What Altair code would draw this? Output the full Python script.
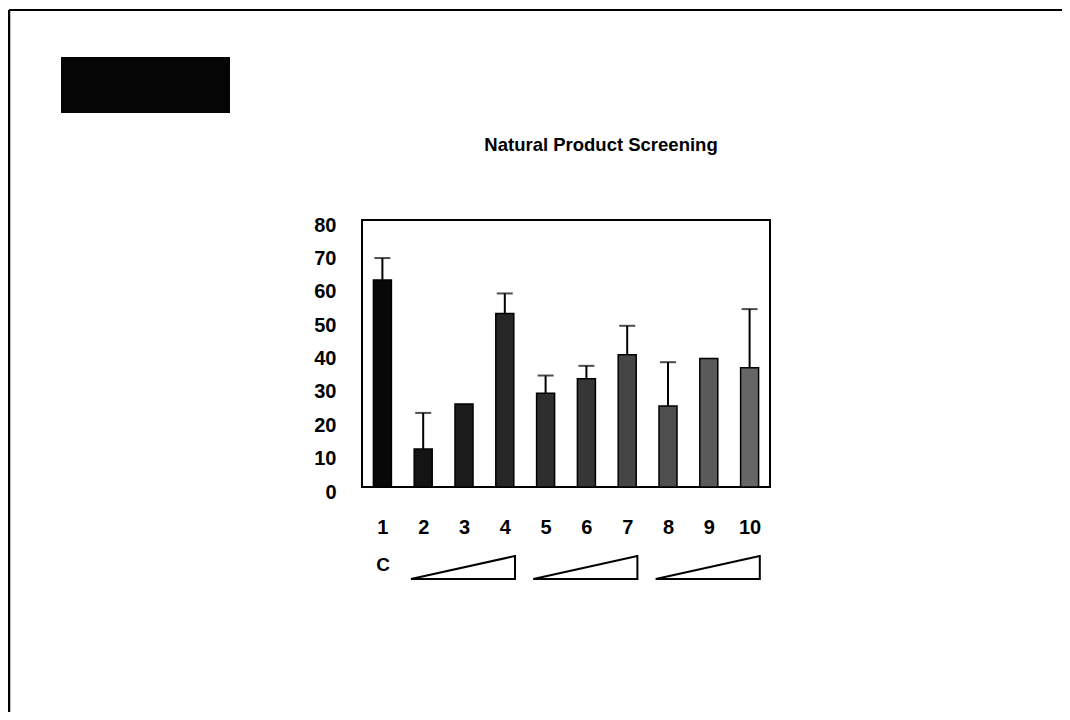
import altair as alt
import pandas as pd

# ---- data ----
lanes = [1, 2, 3, 4, 5, 6, 7, 8, 9, 10]
means = [62.0, 11.4, 24.9, 52.0, 28.1, 32.4, 39.6, 24.3, 38.5, 35.7]
upper = [68.6, 22.2, None, 58.0, 33.4, 36.3, 48.3, 37.4, None, 53.3]
y_ticks = [0, 10, 20, 30, 40, 50, 60, 70, 80]
wedge_first = [2, 5, 8]
wedge_last = [4, 7, 10]
title_text = "Natural Product Screening"
conc_label = "C"

# ---- styles ----
bar_greys = ["#080808", "#141414", "#1c1c1c", "#262626", "#2e2e2e",
             "#363636", "#454545", "#4f4f4f", "#5a5a5a", "#666666"]
FONT = "Liberation Sans"
W, H = 408, 267
PAD = {"left": 354, "top": 212, "right": 292, "bottom": 225}

df = pd.DataFrame({"lane": lanes, "mean": means, "upper": upper})
err_df = df.dropna().reset_index(drop=True)
wedge_df = pd.DataFrame({"first": wedge_first, "last": wedge_last})
one = pd.DataFrame({"k": [0]})

xscale = alt.Scale(domain=[0.5, 10.5], nice=False, zero=False, padding=0)
yscale = alt.Scale(domain=[0, 80], nice=False, padding=0)

x_axis = alt.Axis(values=lanes, format="d", title=None, labelFont=FONT,
                  labelFontSize=20, labelFontWeight="bold", labelColor="black",
                  labelPadding=30, ticks=False, domain=False, grid=False)
y_axis = alt.Axis(values=y_ticks, title=None, labelFont=FONT, labelFontSize=20,
                  labelFontWeight="bold", labelColor="black", labelPadding=26,
                  labelOffset=5, ticks=False, domain=False, grid=False)


def X(field):
    return alt.X(field, scale=xscale, axis=x_axis)


def Y(field):
    return alt.Y(field, scale=yscale, axis=y_axis)


bars = alt.Chart(df).mark_bar(size=18, stroke="black", strokeWidth=1.5).encode(
    x=X("lane:Q"),
    y=Y("mean:Q"),
    color=alt.Color("lane:O", scale=alt.Scale(domain=lanes, range=bar_greys),
                    legend=None),
)
err = alt.Chart(err_df).mark_rule(color="black", strokeWidth=2).encode(
    x=X("lane:Q"), y=Y("mean:Q"), y2="upper:Q",
)
caps = alt.Chart(err_df).mark_tick(orient="horizontal", size=16, thickness=2,
                                   color="black").encode(
    x=X("lane:Q"), y=Y("upper:Q"),
)

wbase = alt.Chart(wedge_df).transform_calculate(
    x0="datum.first - 0.3", x1="datum.last + 0.25")
hyp = wbase.mark_rule(color="black", strokeWidth=2).encode(
    x=X("x0:Q"), x2="x1:Q", y=alt.value(359), y2=alt.value(336))
bottom = wbase.mark_rule(color="black", strokeWidth=2).encode(
    x=X("x0:Q"), x2="x1:Q", y=alt.value(359))
vert = wbase.mark_rule(color="black", strokeWidth=2).encode(
    x=X("x1:Q"), y=alt.value(335), y2=alt.value(360))

c_text = alt.Chart(one).mark_text(text=conc_label, font=FONT, fontSize=19,
                                  fontWeight="bold", color="black").encode(
    x=alt.value(21), y=alt.value(345))
title_mark = alt.Chart(one).mark_text(text=title_text, font=FONT, fontSize=18.5,
                                      fontWeight="bold", color="black",
                                      align="center", baseline="middle").encode(
    x=alt.value(239), y=alt.value(-75))

# decorations: page frame and black label box
frame_top = alt.Chart(one).mark_rule(color="black", strokeWidth=2).encode(
    x=alt.value(-353), x2=alt.value(700), y=alt.value(-210))
frame_left = alt.Chart(one).mark_rule(color="black", strokeWidth=2.5).encode(
    x=alt.value(-353), y=alt.value(-210), y2=alt.value(495))
black_box = alt.Chart(one).mark_rect(color="#050505").encode(
    x=alt.value(-301), x2=alt.value(-132), y=alt.value(-163), y2=alt.value(-107))

chart = alt.layer(
    bars, err, caps, hyp, bottom, vert, c_text, title_mark,
    frame_top, frame_left, black_box,
).properties(
    width=W, height=H,
    autosize=alt.AutoSizeParams(type="none"),
    padding=PAD,
    background="white",
).configure_view(
    stroke="black", strokeWidth=2
)

chart.save("out.html", embed_options={"renderer": "svg", "actions": False})
